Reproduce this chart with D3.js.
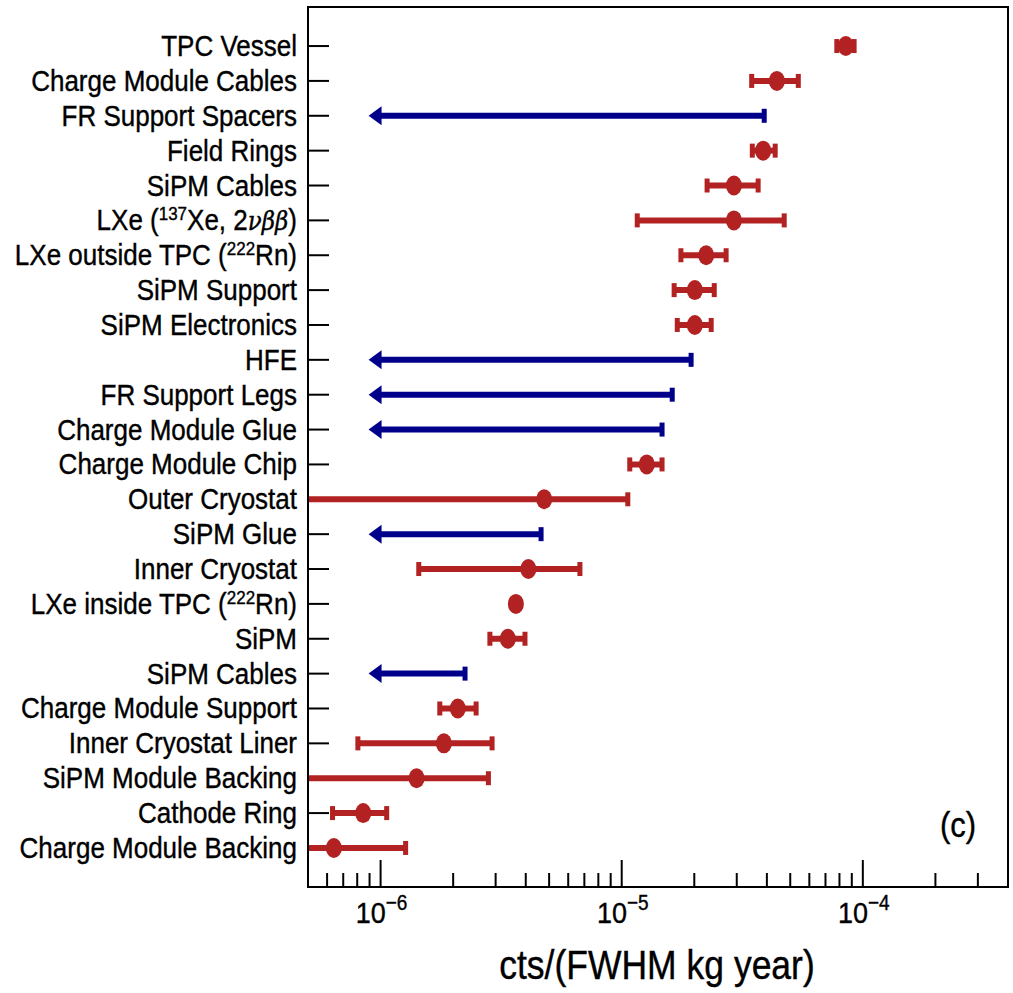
<!DOCTYPE html>
<html>
<head>
<meta charset="utf-8">
<script src="https://cdn.jsdelivr.net/npm/d3@7"></script>
<style>
  body { margin: 0; background: #fff; }
  text { font-family: "Liberation Sans", Arial, sans-serif; fill: #000; stroke: #000; stroke-width: 0.35px; }
</style>
</head>
<body>
<div id="chart"></div>
<script>
// Components, top to bottom
var components = ["TPC Vessel", "Charge Module Cables", "FR Support Spacers", "Field Rings",
  "SiPM Cables", "LXe137", "LXeOut222", "SiPM Support", "SiPM Electronics", "HFE",
  "FR Support Legs", "Charge Module Glue", "Charge Module Chip", "Outer Cryostat",
  "SiPM Glue", "Inner Cryostat", "LXeIn222", "SiPM", "SiPM Cables 2",
  "Charge Module Support", "Inner Cryostat Liner", "SiPM Module Backing",
  "Cathode Ring", "Charge Module Backing"];

// "m" = measured value with error bar, "u" = upper limit
var kinds = ["m", "m", "u", "m", "m", "m", "m", "m", "m", "u", "u", "u", "m", "m",
  "u", "m", "m", "m", "u", "m", "m", "m", "m", "m"];

var centers = [8.5e-5, 4.4e-5, null, 3.86e-5, 2.92e-5, 2.92e-5, 2.24e-5, 2.01e-5, 2.01e-5, null,
  null, null, 1.27e-5, 4.77e-6, null, 4.1e-6, 3.64e-6, 3.37e-6, null,
  2.09e-6, 1.83e-6, 1.41e-6, 8.47e-7, 6.4e-7];

var lows = [7.8e-5, 3.46e-5, null, 3.48e-5, 2.26e-5, 1.16e-5, 1.76e-5, 1.65e-5, 1.70e-5, null,
  null, null, 1.08e-5, 3e-7, null, 1.44e-6, 3.6e-6, 2.84e-6, null,
  1.76e-6, 8.05e-7, 3e-7, 6.32e-7, 3e-7];

var highs = [9.2e-5, 5.4e-5, 3.9e-5, 4.33e-5, 3.68e-5, 4.72e-5, 2.71e-5, 2.42e-5, 2.35e-5, 1.94e-5,
  1.62e-5, 1.47e-5, 1.47e-5, 1.06e-5, 4.63e-6, 6.71e-6, 3.7e-6, 3.97e-6, 2.24e-6,
  2.49e-6, 2.90e-6, 2.80e-6, 1.06e-6, 1.27e-6];

// Label pieces: [text, style] with style "", "sup" or "it"
var labelParts = {
  "LXe137": [["LXe (", ""], ["137", "sup"], ["Xe, 2", ""], ["\u03bd\u03b2\u03b2", "it"], [")", ""]],
  "LXeOut222": [["LXe outside TPC (", ""], ["222", "sup"], ["Rn)", ""]],
  "LXeIn222": [["LXe inside TPC (", ""], ["222", "sup"], ["Rn)", ""]],
  "SiPM Cables 2": [["SiPM Cables", ""]]
};

var xDomain = [5e-7, 4e-4];
var majorTicks = [1e-6, 1e-5, 1e-4];
var majorExp = ["\u22126", "\u22125", "\u22124"];
var limitArrowAt = 1e-6;

var red = "#b22222";
var blue = "#00008b";

var svgWidth = 1013;
var svgHeight = 993;
var plot = { left: 308, right: 1008, top: 7, bottom: 887 };
var yStretch = 1.12;

var svg = d3.select("#chart")
  .append("svg")
  .attr("width", svgWidth)
  .attr("height", svgHeight);

var x = d3.scaleLog()
  .domain(xDomain)
  .range([plot.left, plot.right]);

var y = d3.scalePoint()
  .domain(components)
  .range([plot.top, plot.bottom])
  .padding(1.12);

svg.append("clipPath")
  .attr("id", "clip")
  .append("rect")
  .attr("x", plot.left)
  .attr("y", plot.top)
  .attr("width", plot.right - plot.left)
  .attr("height", plot.bottom - plot.top);

// helper: vertically stretched text like the original
function stretchedText(g, px, py, anchor, size) {
  return g.append("text")
    .attr("transform", `translate(${px},${py}) scale(1,${yStretch})`)
    .attr("text-anchor", anchor)
    .style("font-size", size + "px");
}

// y labels + ticks
var yLabels = svg.append("g");
components.forEach(function(c) {
  var t = stretchedText(yLabels, plot.left - 11, y(c) + 10, "end", 26);
  var parts = labelParts[c] || [[c, ""]];
  var pending = 0;
  parts.forEach(function(p) {
    var ts = t.append("tspan").text(p[0]);
    if (p[1] === "sup") {
      ts.style("font-size", "17px").attr("dy", -9);
      pending = 9;
      return;
    }
    if (pending) { ts.attr("dy", pending); pending = 0; }
    if (p[1] === "it") {
      ts.style("font-style", "italic").style("font-family", "'DejaVu Serif', serif").style("font-size", "23px");
    }
  });
  yLabels.append("line")
    .attr("x1", plot.left).attr("x2", plot.left + 21)
    .attr("y1", y(c)).attr("y2", y(c))
    .attr("stroke", "#000").attr("stroke-width", 2);
});

// x ticks (inward)
var xTicks = svg.append("g");
var minor = [];
[1e-7, 1e-6, 1e-5, 1e-4].forEach(function(dec) {
  for (var k = 2; k <= 9; k++) {
    var v = k * dec;
    if (v > xDomain[0] && v < xDomain[1]) minor.push(v);
  }
});
xTicks.selectAll("line.minor")
  .data(minor)
  .enter()
  .append("line")
  .attr("x1", d => x(d)).attr("x2", d => x(d))
  .attr("y1", plot.bottom).attr("y2", plot.bottom - 14)
  .attr("stroke", "#000").attr("stroke-width", 2);
xTicks.selectAll("line.major")
  .data(majorTicks)
  .enter()
  .append("line")
  .attr("x1", d => x(d)).attr("x2", d => x(d))
  .attr("y1", plot.bottom).attr("y2", plot.bottom - 27)
  .attr("stroke", "#000").attr("stroke-width", 2);

majorTicks.forEach(function(v, i) {
  var t = stretchedText(xTicks, x(v) + 1, plot.bottom + 36, "middle", 27);
  t.append("tspan").text("10");
  t.append("tspan").attr("dy", -12).style("font-size", "19px").text(majorExp[i]);
});

// x-axis title
stretchedText(svg, 657, 979, "middle", 35.5).text("cts/(FWHM kg year)");

// panel tag
stretchedText(svg, 958, 837, "middle", 31).text("(c)");

// data marks
var marks = svg.append("g").attr("clip-path", "url(#clip)");

components.forEach(function(c, i) {
  var yy = y(c);
  if (kinds[i] === "u") {
    var x0 = x(limitArrowAt);
    var x1 = x(highs[i]);
    marks.append("line")
      .attr("x1", x0).attr("x2", x1)
      .attr("y1", yy).attr("y2", yy)
      .attr("stroke", blue).attr("stroke-width", 6);
    marks.append("rect")
      .attr("x", x1 - 2.5).attr("y", yy - 7)
      .attr("width", 5).attr("height", 14)
      .attr("fill", blue);
    marks.append("path")
      .attr("d", `M${x0 - 12},${yy} L${x0 + 1},${yy - 9.5} L${x0 + 1},${yy + 9.5} Z`)
      .attr("fill", blue);
  } else {
    var lo = x(lows[i]);
    var hi = x(highs[i]);
    marks.append("line")
      .attr("x1", lo).attr("x2", hi)
      .attr("y1", yy).attr("y2", yy)
      .attr("stroke", red).attr("stroke-width", 6);
    [lows[i], highs[i]].forEach(function(v) {
      if (v >= xDomain[0]) {
        marks.append("rect")
          .attr("x", x(v) - 2.5).attr("y", yy - 7)
          .attr("width", 5).attr("height", 14)
          .attr("fill", red);
      }
    });
    marks.append("ellipse")
      .attr("cx", x(centers[i])).attr("cy", yy)
      .attr("rx", 8).attr("ry", 10)
      .attr("fill", red);
  }
});

// frame
svg.append("rect")
  .attr("x", plot.left).attr("y", plot.top)
  .attr("width", plot.right - plot.left)
  .attr("height", plot.bottom - plot.top)
  .attr("fill", "none")
  .attr("stroke", "#000")
  .attr("stroke-width", 2);
</script>
</body>
</html>
